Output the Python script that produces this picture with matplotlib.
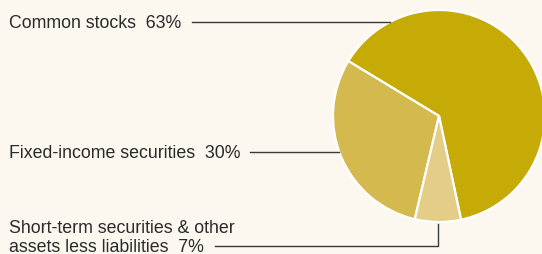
import numpy as np
import matplotlib.pyplot as plt

labels = ['Common stocks  63%', 'Fixed-income securities  30%',
          'Short-term securities & other\nassets less liabilities  7%']
shares = [63, 30, 7]
colors = ['#c6aa06', '#d4b94f', '#e3cd87']

bg = '#fcf8f0'
W, H = 542, 255
cx, cy, r = 439, H - 117, 106

fig = plt.figure(figsize=(W / 100, H / 100), dpi=100, facecolor=bg)
ax = fig.add_axes([0, 0, 1, 1], facecolor=bg)
ax.pie(shares, colors=colors, startangle=-78, counterclock=True,
       center=(cx, cy), radius=r, frame=True,
       wedgeprops=dict(edgecolor='white', linewidth=1.6))
ax.set_xlim(0, W)
ax.set_ylim(0, H)
ax.set_aspect('equal')
ax.axis('off')

plt.rcParams['font.family'] = ['Liberation Sans', 'DejaVu Sans']
fs = 12.8
lc = '#3a3a3a'
tc = '#2a2a2a'

# common stocks: leader line to circle edge
y1 = H - 23
ax.text(9, y1, labels[0], fontsize=fs, va='center', ha='left', color=tc)
x_end = cx - np.sqrt(r**2 - (y1 - cy)**2)
ax.plot([192, x_end], [y1, y1], color=lc, lw=1)

# fixed income
y2 = H - 153
ax.text(9, y2, labels[1], fontsize=fs, va='center', ha='left', color=tc)
x_end = cx - np.sqrt(r**2 - (y2 - cy)**2)
ax.plot([250, x_end], [y2, y2], color=lc, lw=1)

# short term: elbow line to bottom of the small slice
ax.text(9, H - 238, labels[2], fontsize=fs, va='center', ha='left',
        color=tc, linespacing=1.13)
y3 = H - 247
ang = np.deg2rad(-78 + 360 * (shares[0] + shares[1] + shares[2] / 2) / 100)
xs = cx + r * np.cos(ang)
ax.plot([215, xs, xs], [y3, y3, cy - r - 2], color=lc, lw=1)

fig.savefig('out.png', dpi=100, facecolor=bg)
